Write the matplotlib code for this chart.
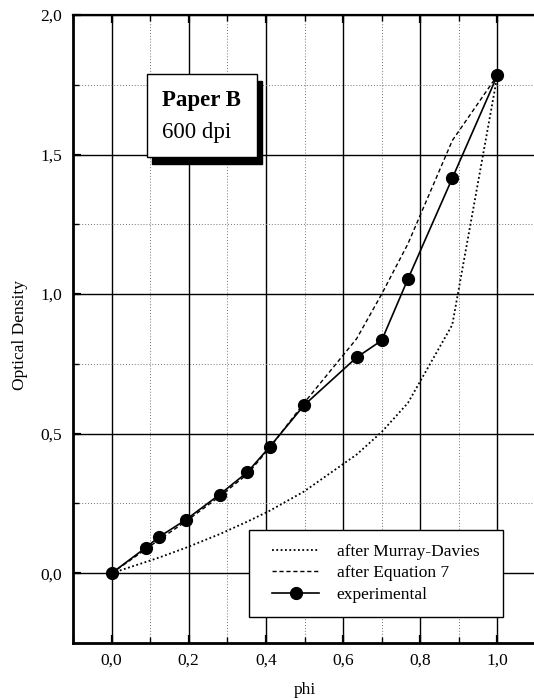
import matplotlib
matplotlib.use("Agg")
import matplotlib.pyplot as plt
from matplotlib.patches import Rectangle
from matplotlib.ticker import MultipleLocator, FuncFormatter

# values
phi = [0.0, 0.088, 0.123, 0.192, 0.280, 0.352, 0.410, 0.499, 0.635, 0.700, 0.768, 0.883, 1.0]
od_experimental = [0.0, 0.091, 0.130, 0.191, 0.282, 0.362, 0.453, 0.602, 0.773, 0.834, 1.054, 1.415, 1.784]
od_murray_davies = [0.0, 0.040, 0.056, 0.091, 0.140, 0.185, 0.224, 0.293, 0.425, 0.506, 0.610, 0.890, 1.784]
od_equation7 = [0.0, 0.085, 0.120, 0.185, 0.275, 0.355, 0.450, 0.610, 0.840, 1.000, 1.180, 1.550, 1.784]

labels = ["after Murray-Davies", "after Equation 7", "experimental"]
box_title = "Paper B"
box_subtitle = "600 dpi"

plt.rcParams['font.family'] = ['Liberation Serif', 'DejaVu Serif']

fig = plt.figure(figsize=(5.34, 6.98), dpi=100)
ax = fig.add_axes([73 / 534, 55 / 698, 463 / 534, 628 / 698])

ax.set_xlim(-0.1, 1.1)
ax.set_ylim(-0.25, 2.0)

# grid: solid majors, dotted minors
ax.xaxis.set_major_locator(MultipleLocator(0.2))
ax.xaxis.set_minor_locator(MultipleLocator(0.1))
ax.yaxis.set_major_locator(MultipleLocator(0.5))
ax.yaxis.set_minor_locator(MultipleLocator(0.25))
ax.grid(which='major', color='black', linewidth=1.0, linestyle='-')
ax.grid(which='minor', color='0.45', linewidth=0.7, linestyle=(0, (1, 2)))
ax.set_axisbelow(True)

comma = FuncFormatter(lambda v, pos: f"{v:.1f}".replace('.', ','))
ax.xaxis.set_major_formatter(comma)
ax.yaxis.set_major_formatter(comma)

ax.tick_params(which='both', direction='in', top=True, right=False, labelsize=12.5)
ax.tick_params(which='major', length=6, width=1.6)
ax.tick_params(which='minor', length=4, width=1.0)
ax.tick_params(axis='x', pad=7)
ax.tick_params(axis='y', pad=8)

for side, lw in [('left', 2.0), ('bottom', 2.0), ('top', 1.6), ('right', 1.6)]:
    ax.spines[side].set_linewidth(lw)

ax.set_xlabel("phi", fontsize=12.5)
ax.set_ylabel("Optical Density", fontsize=12.5)
ax.xaxis.set_label_coords(0.5, -0.062)
ax.yaxis.set_label_coords(-0.097, 0.49)

ax.plot(phi, od_murray_davies, color='black', linewidth=1.3,
        linestyle=(0, (1, 1.4)), label=labels[0], zorder=3)
ax.plot(phi, od_equation7, color='black', linewidth=1.0,
        linestyle=(0, (3, 2)), label=labels[1], zorder=3)
ax.plot(phi, od_experimental, color='black', linewidth=1.2, marker='o',
        markersize=8.5, label=labels[2], zorder=4)

# framed label with drop shadow
ax.add_patch(Rectangle((0.106, 1.466), 0.285, 0.298, facecolor='black',
                       edgecolor='black', zorder=5))
ax.add_patch(Rectangle((0.093, 1.491), 0.285, 0.298, facecolor='white',
                       edgecolor='black', linewidth=1.0, zorder=6))
ax.text(0.130, 1.695, box_title, fontsize=16.5, fontweight='bold',
        ha='left', va='center', zorder=7)
ax.text(0.130, 1.578, box_subtitle, fontsize=16.5,
        ha='left', va='center', zorder=7)

# legend with square frame
ax.add_patch(Rectangle((0.380, 0.041), 0.549, 0.139, transform=ax.transAxes,
                       facecolor='white', edgecolor='black', linewidth=1.0,
                       zorder=6))
leg = ax.legend(loc='center', bbox_to_anchor=(0.654, 0.111), frameon=False,
                fontsize=12.5, handlelength=2.7, handletextpad=1.0,
                labelspacing=0.3, borderpad=0.2)
leg.set_zorder(7)

fig.savefig("out.png", dpi=100)
